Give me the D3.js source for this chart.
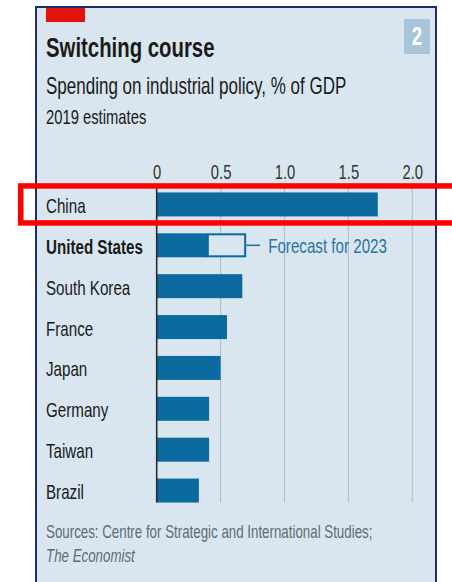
<!DOCTYPE html>
<html>
<head>
<meta charset="utf-8">
<script src="https://cdn.jsdelivr.net/npm/d3@7"></script>
<style>
  html, body { margin: 0; padding: 0; background: #ffffff; }
  svg { display: block; }
  text { font-family: "Liberation Sans", Arial, sans-serif; }
</style>
</head>
<body>
<svg id="chart" width="452" height="582"></svg>
<script>
// Spending on industrial policy, % of GDP, 2019 estimates
const countries = ["China", "United States", "South Korea", "France", "Japan", "Germany", "Taiwan", "Brazil"];
const spend2019 = [1.73, 0.40, 0.67, 0.55, 0.50, 0.41, 0.41, 0.33];
// forecast for 2023 (only available for the United States)
const forecast2023 = [null, 0.70, null, null, null, null, null, null];
const tickValues = [0, 0.5, 1, 1.5, 2];
const tickLabels = ["0", "0.5", "1.0", "1.5", "2.0"];
const forecastLabel = "Forecast for 2023";

const W = 452, H = 582;
const squeeze = 0.74; // horizontal squeeze giving a narrow house typeface
const colors = {
  panel: "#d9e6ef",
  frame: "#1c2b6b",
  bar: "#0b6a9e",
  note: "#2a72a3",
  grid: "#b3c0c9",
  axis: "#2b2b2b",
  ink: "#1a1a1a",
  muted: "#5f6b74",
  red: "#e3120b",
  badge: "#a8c6da"
};

const svg = d3.select("#chart");

// panel
svg.append("rect")
  .attr("x", 36).attr("y", 7)
  .attr("width", 400).attr("height", H + 20)
  .attr("fill", colors.panel)
  .attr("stroke", colors.frame).attr("stroke-width", 2);

// red tag
svg.append("rect")
  .attr("x", 46).attr("y", 8).attr("width", 39).attr("height", 14)
  .attr("fill", colors.red);

// chart number badge
svg.append("rect")
  .attr("x", 404).attr("y", 19).attr("width", 26).attr("height", 35)
  .attr("fill", colors.badge);

function put(sel, x, y) {
  return sel.attr("transform", `translate(${x},${y}) scale(${squeeze},1)`);
}

put(svg.append("text"), 417, 45)
  .attr("text-anchor", "middle")
  .attr("font-size", 25).attr("font-weight", "bold")
  .attr("fill", "#ffffff")
  .text("2");

// titles
put(svg.append("text"), 46, 57)
  .attr("font-size", 27.5).attr("font-weight", "bold").attr("fill", colors.ink)
  .text("Switching course");
put(svg.append("text"), 46, 94)
  .attr("font-size", 23).attr("fill", colors.ink)
  .text("Spending on industrial policy, % of GDP");
put(svg.append("text"), 46, 124)
  .attr("font-size", 20).attr("fill", colors.ink)
  .text("2019 estimates");

// scales
const x = d3.scaleLinear().domain([0, 2]).range([156.7, 412.3]);
const y = d3.scaleBand().domain(countries)
  .range([184, 511]).paddingInner(0.413).paddingOuter(0.2065);

const gridTop = y.range()[0];
const gridBottom = y(countries[countries.length - 1]) + y.bandwidth();

// gridlines
svg.append("g")
  .selectAll("line")
  .data(tickValues.filter(d => d > 0))
  .join("line")
  .attr("x1", d => x(d)).attr("x2", d => x(d))
  .attr("y1", gridTop).attr("y2", gridBottom)
  .attr("stroke", colors.grid).attr("stroke-width", 1.2);

// top axis labels
const axis = d3.axisTop(x)
  .tickValues(tickValues)
  .tickFormat((d, i) => tickLabels[i])
  .tickSize(0).tickPadding(0);

const gx = svg.append("g")
  .attr("transform", "translate(0,179)")
  .call(axis);
gx.select(".domain").remove();
gx.selectAll("text")
  .attr("font-family", null)
  .attr("font-size", 20)
  .attr("fill", "#333333")
  .attr("transform", `scale(${squeeze},1)`);

const rows = countries.map((c, i) => ({ country: c, value: spend2019[i], forecast: forecast2023[i] }));

// forecast outline boxes
svg.append("g")
  .selectAll("rect")
  .data(rows.filter(d => d.forecast != null))
  .join("rect")
  .attr("x", d => x(d.value))
  .attr("y", d => y(d.country) + 1)
  .attr("width", d => x(d.forecast) - x(d.value) - 1)
  .attr("height", y.bandwidth() - 2)
  .attr("fill", colors.panel)
  .attr("stroke", colors.bar).attr("stroke-width", 2);

// bars
svg.append("g")
  .selectAll("rect")
  .data(rows)
  .join("rect")
  .attr("x", x(0))
  .attr("y", d => y(d.country))
  .attr("width", d => x(d.value) - x(0))
  .attr("height", y.bandwidth())
  .attr("fill", colors.bar);

// zero line
svg.append("line")
  .attr("x1", x(0)).attr("x2", x(0))
  .attr("y1", gridTop).attr("y2", gridBottom)
  .attr("stroke", colors.axis).attr("stroke-width", 1.6);

// category labels
svg.append("g")
  .selectAll("text")
  .data(rows)
  .join("text")
  .attr("transform", d => `translate(46,${y(d.country) + y.bandwidth() / 2 + 8.5}) scale(${squeeze},1)`)
  .attr("font-size", 20.5)
  .attr("font-weight", d => d.forecast != null ? "bold" : "normal")
  .attr("fill", colors.ink)
  .text(d => d.country);

// forecast annotation
const fc = rows.filter(d => d.forecast != null);
svg.append("g")
  .selectAll("line")
  .data(fc)
  .join("line")
  .attr("x1", d => x(d.forecast)).attr("x2", d => x(d.forecast) + 14)
  .attr("y1", d => y(d.country) + y.bandwidth() / 2)
  .attr("y2", d => y(d.country) + y.bandwidth() / 2)
  .attr("stroke", colors.note).attr("stroke-width", 1.6);
svg.append("g")
  .selectAll("text")
  .data(fc)
  .join("text")
  .attr("transform", d => `translate(${x(d.forecast) + 22},${y(d.country) + y.bandwidth() / 2 + 7.5}) scale(${squeeze},1)`)
  .attr("font-size", 20.5)
  .attr("fill", colors.note)
  .text(forecastLabel);

// sources
put(svg.append("text"), 46, 538)
  .attr("font-size", 18).attr("fill", colors.muted)
  .text("Sources: Centre for Strategic and International Studies;");
put(svg.append("text"), 46, 562)
  .attr("font-size", 18).attr("font-style", "italic").attr("fill", colors.muted)
  .text("The Economist");

// highlight frame around the China row
const hl = countries[0];
svg.append("rect")
  .attr("x", 20.7)
  .attr("y", y(hl) - 6.5)
  .attr("width", W + 20)
  .attr("height", y.bandwidth() + 9.5 + 6.5 - 3)
  .attr("fill", "none")
  .attr("stroke", "#ff0000").attr("stroke-width", 5.5);
</script>
</body>
</html>
